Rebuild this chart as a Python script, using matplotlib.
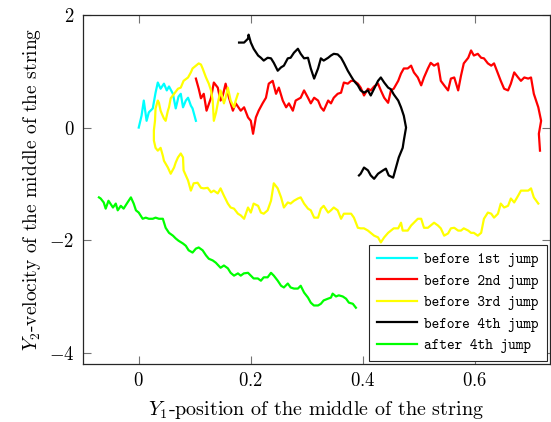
import matplotlib
matplotlib.use("Agg")
import matplotlib.pyplot as plt

plt.rcParams['font.family'] = 'cmr10'
plt.rcParams['mathtext.fontset'] = 'cm'
plt.rcParams['axes.formatter.use_mathtext'] = True
plt.rcParams['axes.unicode_minus'] = True

# ---------------- data ----------------
cyan_x = [0.0, 0.005, 0.009, 0.014, 0.018, 0.025, 0.030, 0.034, 0.039, 0.045, 0.050,
          0.054, 0.061, 0.066, 0.071, 0.075, 0.079, 0.084, 0.088, 0.093, 0.096, 0.102]
cyan_y = [0.0, 0.21, 0.48, 0.12, 0.27, 0.34, 0.62, 0.80, 0.69, 0.78, 0.66,
          0.73, 0.60, 0.34, 0.55, 0.60, 0.36, 0.48, 0.53, 0.39, 0.34, 0.12]

red_x = [0.102, 0.107, 0.111, 0.116, 0.121, 0.129, 0.134, 0.141, 0.146, 0.150, 0.155,
         0.161, 0.168, 0.173, 0.182, 0.188, 0.195, 0.200, 0.204, 0.209, 0.214, 0.221,
         0.227, 0.232, 0.239, 0.245, 0.250, 0.257, 0.263, 0.268, 0.275, 0.280, 0.289,
         0.295, 0.302, 0.307, 0.313, 0.320, 0.325, 0.330, 0.338, 0.343, 0.348, 0.355,
         0.361, 0.366, 0.373, 0.379, 0.384, 0.391, 0.396, 0.402, 0.409, 0.414, 0.420,
         0.427, 0.432, 0.438, 0.445, 0.450, 0.455, 0.463, 0.468, 0.473, 0.480, 0.486,
         0.491, 0.498, 0.504, 0.509, 0.516, 0.521, 0.527, 0.534, 0.539, 0.545, 0.552,
         0.557, 0.563, 0.570, 0.575, 0.580, 0.588, 0.593, 0.598, 0.605, 0.611, 0.616,
         0.623, 0.629, 0.634, 0.641, 0.646, 0.652, 0.659, 0.664, 0.670, 0.677, 0.682,
         0.688, 0.695, 0.700, 0.705, 0.713, 0.718, 0.714, 0.716]
red_y = [0.87, 0.69, 0.52, 0.60, 0.30, 0.53, 0.80, 0.71, 0.48, 0.57, 0.78,
         0.53, 0.30, 0.43, 0.30, 0.36, 0.18, 0.12, -0.11, 0.18, 0.30, 0.43,
         0.53, 0.78, 0.83, 0.60, 0.71, 0.48, 0.36, 0.43, 0.30, 0.48, 0.53,
         0.66, 0.53, 0.43, 0.53, 0.48, 0.36, 0.30, 0.48, 0.43, 0.53, 0.60,
         0.62, 0.80, 0.78, 0.83, 0.83, 0.78, 0.71, 0.57, 0.69, 0.66, 0.73,
         0.78, 0.66, 0.53, 0.44, 0.66, 0.69, 0.83, 0.96, 1.05, 1.05, 1.10,
         0.98, 0.89, 0.75, 0.89, 1.05, 1.15, 1.10, 1.14, 0.83, 0.75, 0.66,
         0.87, 0.89, 0.66, 0.92, 1.14, 1.24, 1.37, 1.28, 1.31, 1.24, 1.23,
         1.14, 1.10, 1.14, 0.96, 0.83, 0.69, 0.66, 0.78, 0.98, 0.89, 0.83,
         0.89, 0.87, 0.89, 0.60, 0.36, 0.12, -0.11, -0.41]

yellow_x = [0.177, 0.173, 0.170, 0.164, 0.159, 0.155, 0.152, 0.146, 0.141, 0.138, 0.134,
            0.132, 0.129, 0.125, 0.120, 0.114, 0.111, 0.107, 0.102, 0.096, 0.093, 0.088,
            0.080, 0.075, 0.070, 0.063, 0.057, 0.054, 0.052, 0.048, 0.045, 0.041, 0.039,
            0.036, 0.034, 0.030, 0.029, 0.027, 0.027, 0.030, 0.034, 0.039, 0.043, 0.045,
            0.048, 0.052, 0.057, 0.063, 0.066, 0.070, 0.075, 0.079, 0.080, 0.088, 0.093,
            0.098, 0.105, 0.111, 0.116, 0.123, 0.129, 0.134, 0.141, 0.146, 0.152, 0.159,
            0.164, 0.170, 0.177, 0.182, 0.188, 0.195, 0.200, 0.205, 0.213, 0.218, 0.223,
            0.230, 0.236, 0.241, 0.248, 0.254, 0.259, 0.266, 0.271, 0.277, 0.284, 0.289,
            0.295, 0.302, 0.307, 0.313, 0.320, 0.325, 0.330, 0.338, 0.343, 0.348, 0.355,
            0.361, 0.366, 0.379, 0.384, 0.391, 0.396, 0.402, 0.409, 0.414, 0.420, 0.427,
            0.432, 0.438, 0.445, 0.450, 0.455, 0.463, 0.468, 0.471, 0.480, 0.486, 0.491,
            0.498, 0.504, 0.509, 0.516, 0.521, 0.527, 0.534, 0.539, 0.545, 0.552, 0.557,
            0.563, 0.570, 0.575, 0.580, 0.588, 0.593, 0.598, 0.605, 0.611, 0.616, 0.623,
            0.629, 0.634, 0.641, 0.646, 0.652, 0.659, 0.664, 0.670, 0.677, 0.682, 0.688,
            0.695, 0.700, 0.705, 0.713]
yellow_y = [0.60, 0.48, 0.36, 0.48, 0.71, 0.53, 0.43, 0.66, 0.43, 0.27, 0.12,
            0.48, 0.66, 0.78, 0.89, 1.05, 1.12, 1.14, 1.10, 1.05, 0.98, 0.89,
            0.83, 0.71, 0.69, 0.60, 0.52, 0.36, 0.30, 0.12, 0.16, 0.25, 0.30,
            0.44, 0.48, 0.34, 0.12, -0.05, -0.23, -0.36, -0.41, -0.36, -0.50, -0.59,
            -0.64, -0.71, -0.82, -0.71, -0.62, -0.53, -0.46, -0.53, -0.76, -0.94, -1.12,
            -0.99, -0.98, -1.07, -1.08, -1.07, -1.15, -1.12, -1.17, -1.08, -1.21, -1.35,
            -1.42, -1.44, -1.53, -1.56, -1.62, -1.42, -1.51, -1.35, -1.39, -1.51, -1.53,
            -1.47, -1.30, -0.99, -1.08, -1.24, -1.42, -1.33, -1.35, -1.30, -1.26, -1.24,
            -1.35, -1.44, -1.47, -1.60, -1.60, -1.44, -1.39, -1.51, -1.47, -1.42, -1.47,
            -1.62, -1.53, -1.53, -1.60, -1.78, -1.79, -1.79, -1.83, -1.87, -1.92, -1.95,
            -2.04, -1.95, -1.87, -1.83, -1.79, -1.79, -1.69, -1.83, -1.83, -1.74, -1.69,
            -1.62, -1.62, -1.78, -1.78, -1.74, -1.69, -1.74, -1.79, -1.92, -1.88, -1.79,
            -1.78, -1.83, -1.83, -1.79, -1.83, -1.87, -1.87, -1.92, -1.87, -1.62, -1.51,
            -1.53, -1.60, -1.53, -1.35, -1.42, -1.39, -1.26, -1.33, -1.21, -1.12, -1.12,
            -1.12, -1.08, -1.24, -1.35]

black_x = [0.179, 0.188, 0.195, 0.196, 0.200, 0.205, 0.213, 0.218, 0.223, 0.230, 0.236,
           0.241, 0.248, 0.254, 0.259, 0.266, 0.271, 0.277, 0.284, 0.289, 0.295, 0.302,
           0.307, 0.313, 0.320, 0.325, 0.330, 0.338, 0.343, 0.348, 0.355, 0.361, 0.366,
           0.373, 0.379, 0.384, 0.391, 0.396, 0.402, 0.409, 0.414, 0.420, 0.427, 0.432,
           0.438, 0.445, 0.450, 0.455, 0.463, 0.468, 0.473, 0.477, 0.473, 0.471, 0.464,
           0.459, 0.454, 0.446, 0.441, 0.436, 0.427, 0.420, 0.414, 0.409, 0.402, 0.396,
           0.393]
black_y = [1.51, 1.51, 1.58, 1.65, 1.51, 1.40, 1.28, 1.24, 1.19, 1.24, 1.23,
           1.15, 1.01, 1.07, 1.10, 1.23, 1.24, 1.33, 1.40, 1.31, 1.23, 1.24,
           1.05, 0.87, 1.05, 1.23, 1.19, 1.24, 1.28, 1.31, 1.30, 1.24, 1.15,
           1.01, 0.91, 0.83, 0.75, 0.66, 0.62, 0.66, 0.57, 0.69, 0.83, 0.89,
           0.80, 0.71, 0.68, 0.59, 0.48, 0.36, 0.21, 0.00, -0.23, -0.36, -0.53,
           -0.71, -0.89, -0.85, -0.73, -0.76, -0.82, -0.91, -0.85, -0.76, -0.71, -0.82,
           -0.85]

green_x = [-0.071, -0.068, -0.0625, -0.059, -0.054, -0.046, -0.041, -0.0375, -0.032, -0.027,
           -0.020, -0.014, -0.009, -0.005, 0.0, 0.007, 0.0125, 0.018, 0.025, 0.030,
           0.036, 0.043, 0.048, 0.054, 0.061, 0.066, 0.071, 0.079, 0.084, 0.089,
           0.096, 0.102, 0.107, 0.114, 0.120, 0.125, 0.132, 0.1375, 0.146, 0.152,
           0.159, 0.164, 0.170, 0.177, 0.182, 0.1875, 0.195, 0.200, 0.205, 0.2125,
           0.218, 0.223, 0.230, 0.236, 0.241, 0.248, 0.254, 0.259, 0.266, 0.271,
           0.277, 0.284, 0.289, 0.295, 0.302, 0.307, 0.3125, 0.320, 0.325, 0.330,
           0.3375, 0.343, 0.346, 0.352, 0.357, 0.364, 0.370, 0.375, 0.382, 0.3875]
green_y = [-1.24, -1.26, -1.33, -1.44, -1.30, -1.42, -1.35, -1.47, -1.39, -1.44,
           -1.33, -1.24, -1.35, -1.47, -1.51, -1.62, -1.60, -1.62, -1.62, -1.60,
           -1.62, -1.62, -1.78, -1.87, -1.92, -1.97, -2.01, -2.06, -2.10, -2.18,
           -2.22, -2.15, -2.13, -2.18, -2.27, -2.33, -2.36, -2.40, -2.49, -2.45,
           -2.50, -2.58, -2.63, -2.59, -2.63, -2.59, -2.58, -2.63, -2.68, -2.68,
           -2.72, -2.66, -2.66, -2.58, -2.63, -2.72, -2.81, -2.84, -2.77, -2.84,
           -2.86, -2.86, -2.81, -2.93, -3.02, -3.11, -3.16, -3.16, -3.13, -3.07,
           -3.04, -3.02, -2.95, -3.00, -2.98, -3.00, -3.04, -3.11, -3.13, -3.20]

labels = ['before 1st jump', 'before 2nd jump', 'before 3rd jump',
          'before 4th jump', 'after 4th jump']
x_ticks = [0, 0.2, 0.4, 0.6]
x_tick_labels = ['$0$', '$0.2$', '$0.4$', '$0.6$']
y_ticks = [2, 0, -2, -4]
y_tick_labels = ['$2$', '$0$', '$-2$', '$-4$']

# ---------------- figure ----------------
fig = plt.figure(figsize=(5.51, 4.22), dpi=100)
ax = fig.add_axes([0.1501, 0.1374, 0.9973 - 0.1501, 0.9645 - 0.1374])

series = [(cyan_x, cyan_y, '#00ffff'), (red_x, red_y, '#ff0000'),
          (yellow_x, yellow_y, '#ffff00'), (black_x, black_y, '#000000'),
          (green_x, green_y, '#00ff00')]
for (xs, ys, c), lab in zip(series, labels):
    ax.plot(xs, ys, color=c, lw=1.6, label=lab, solid_joinstyle='round')

ax.set_xlim(-0.1, 0.733)
ax.set_ylim(-4.2, 2.0)
ax.set_xticks(x_ticks)
ax.set_xticklabels(x_tick_labels)
ax.set_yticks(y_ticks)
ax.set_yticklabels(y_tick_labels)
ax.tick_params(direction='in', top=True, right=True, length=6, width=0.8,
               color='0.45', labelsize=13.5, pad=6)
for s in ax.spines.values():
    s.set_linewidth(0.9)
    s.set_color('0.15')

ax.set_xlabel(r'$Y_1$-position of the middle of the string', fontsize=14.5, labelpad=6)
ax.set_ylabel(r'$Y_2$-velocity of the middle of the string', fontsize=14, labelpad=4)

leg = ax.legend(loc='lower right', prop={'family': 'cmtt10', 'size': 10.5},
                frameon=True, fancybox=False,
                edgecolor='0.15', framealpha=1, borderaxespad=0.2,
                handlelength=2.75, handletextpad=0.5, labelspacing=0.5,
                borderpad=0.55)
leg.get_frame().set_linewidth(0.8)
for lh in leg.get_lines():
    lh.set_linewidth(1.6)

fig.savefig('out.png', dpi=100)
